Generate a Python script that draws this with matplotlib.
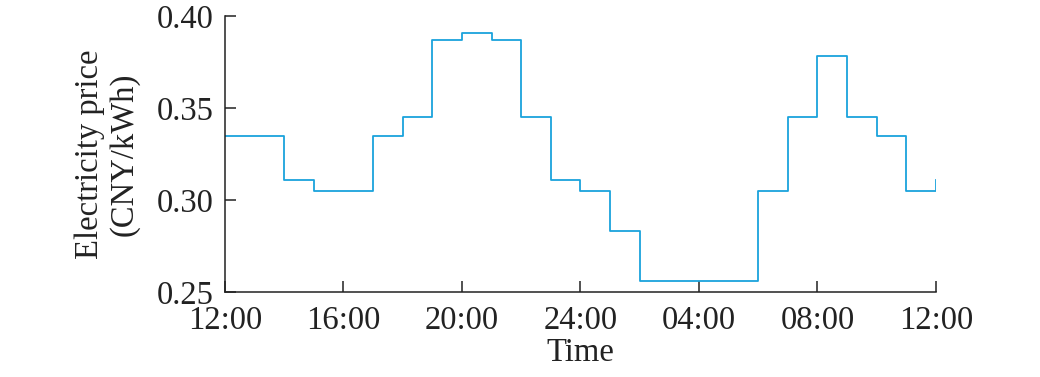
import numpy as np
import matplotlib.pyplot as plt

plt.rcParams['font.family'] = ['Liberation Serif', 'DejaVu Serif']

# hourly price, 12:00 today -> 12:00 tomorrow (last value is the end point)
hours = list(range(12, 37))
price = [0.335, 0.335, 0.311, 0.305, 0.305, 0.335, 0.345, 0.387, 0.391, 0.387,
         0.345, 0.311, 0.305, 0.283, 0.256, 0.256, 0.256, 0.256, 0.305, 0.345,
         0.378, 0.345, 0.335, 0.305, 0.311]
tick_pos = [12, 16, 20, 24, 28, 32, 36]
tick_labels = ['12:00', '16:00', '20:00', '24:00', '04:00', '08:00', '12:00']

fig = plt.figure(figsize=(10.4, 3.77), dpi=100)
ax = fig.add_axes([0.2163, 0.2255, 0.6837, 0.732])
ax.step(hours, price, where='post', color='#1AA3DC', linewidth=1.3)

ax.set_xlim(12, 36)
ax.set_ylim(0.25, 0.40)
ax.set_xticks(tick_pos)
ax.set_xticklabels(tick_labels)
ax.set_yticks([0.25, 0.30, 0.35, 0.40])
ax.set_yticklabels(['0.25', '0.30', '0.35', '0.40'])
ax.tick_params(direction='in', length=8, width=1.1, labelsize=23.5, colors='#222222', labelcolor='#222222')
ax.tick_params(axis='x', pad=10)
ax.tick_params(axis='y', pad=8)
for s in ['top', 'right']:
    ax.spines[s].set_visible(False)
for s in ['left', 'bottom']:
    ax.spines[s].set_linewidth(1.1)
    ax.spines[s].set_color('#222222')

ax.set_xlabel('Time', fontsize=23.5, labelpad=1, color='#222222')
ax.set_ylabel('Electricity price\n(CNY/kWh)', fontsize=23.5, linespacing=1.15, color='#222222')
ax.yaxis.set_label_coords(-0.12, 0.5)

fig.savefig('out.png', dpi=100)
